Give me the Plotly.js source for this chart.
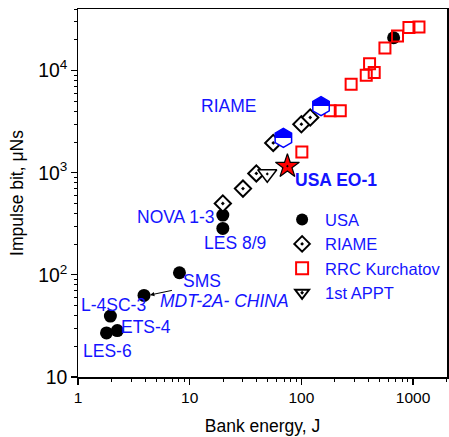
<!DOCTYPE html>
<html>
<head>
<meta charset="utf-8">
<script src="https://cdn.plot.ly/plotly-3.0.1.min.js"></script>
<style>html,body{margin:0;padding:0;background:#fff;}#chart{width:449px;height:437px;}</style>
</head>
<body>
<div id="chart"></div>
<script>
// Data (Bank energy in J, Impulse bit in µNs)
const usaX = [1.8, 2.25, 1.95, 3.9, 8.1, 19.8, 19.8, 670];
const usaY = [27, 28.5, 39.5, 63, 105, 385, 285, 21000];
const riameX = [19.8, 30, 39.5, 56, 100, 120];
const riameY = [500, 700, 985, 1960, 2990, 3480];
const rrcX = [101, 181, 223, 279, 381, 449, 408, 560, 726, 919, 1130];
const rrcY = [1600, 4040, 4040, 7360, 9020, 9570, 11700, 16700, 21900, 26400, 26800];
const apptX = [49.5];
const apptY = [975];
const hexX = [69, 150];
const hexY = [2200, 4490];
const eo1X = [75];
const eo1Y = [1160];

const labels = [
  {text: 'RIAME', x: 22.4, y: 4560},
  {text: 'NOVA 1-3', x: 7.6, y: 373},
  {text: 'LES 8/9', x: 25.6, y: 206},
  {text: 'SMS', x: 12.8, y: 87},
  {text: 'L-4SC-3', x: 2.09, y: 50.6},
  {text: 'ETS-4', x: 4.06, y: 31},
  {text: 'LES-6', x: 1.82, y: 18.1},
  {text: '<i>MDT-2A- CHINA</i>', x: 20.4, y: 55.4},
  {text: '<b>USA EO-1</b>', x: 204, y: 859}
];

const FONT = 'Arial, "Liberation Sans", sans-serif';
const BLUE = '#1414ff';

const traces = [
  {name: 'USA', x: usaX, y: usaY, type: 'scatter', mode: 'markers',
   marker: {symbol: 'circle', size: 13, color: '#000', line: {width: 0}}},
  {name: 'RIAME', x: riameX, y: riameY, type: 'scatter', mode: 'markers',
   marker: {symbol: 'diamond-dot', size: 12.5, color: '#fff', line: {width: 2, color: '#000'}}},
  {name: 'RRC Kurchatov', x: rrcX, y: rrcY, type: 'scatter', mode: 'markers',
   marker: {symbol: 'square-open', size: 11, color: '#ff0000', line: {width: 2, color: '#ff0000'}}},
  {name: '1st APPT', x: apptX, y: apptY, type: 'scatter', mode: 'markers',
   marker: {symbol: 'triangle-down-dot', size: 16.5, color: '#fff', line: {width: 1.5, color: '#000'}}},
  {name: 'hex', x: hexX, y: hexY, type: 'scatter', mode: 'markers', showlegend: false,
   marker: {symbol: 'hexagon', size: 19, color: '#0000ff', gradient: {type: 'vertical', color: '#ffffff'},
            line: {width: 1.5, color: '#0000ff'}}},
  {name: 'EO-1', x: eo1X, y: eo1Y, type: 'scatter', mode: 'markers', showlegend: false,
   marker: {symbol: 'star-dot', size: 18, color: '#ff0000', line: {width: 1.2, color: '#000'}}}
];

const annotations = labels.map(l => ({
  text: l.text, x: Math.log10(l.x), y: Math.log10(l.y), xref: 'x', yref: 'y',
  showarrow: false, xanchor: 'center', yanchor: 'middle',
  font: {family: FONT, size: 17.5, color: BLUE}
}));
// arrow from MDT label to its point
annotations.push({
  text: '', xref: 'x', yref: 'y', axref: 'x', ayref: 'y',
  x: Math.log10(4.4), y: Math.log10(63.5), ax: Math.log10(7.15), ay: Math.log10(71),
  showarrow: true, arrowhead: 2, arrowsize: 0.9, arrowwidth: 1, arrowcolor: '#000'
});

const layout = {
  width: 449, height: 437,
  margin: {l: 78, r: 2.3, t: 9, b: 60},
  paper_bgcolor: '#fff', plot_bgcolor: '#fff',
  font: {family: FONT, color: '#000'},
  showlegend: true,
  legend: {x: 0.545, y: 0.475, xanchor: 'left', yanchor: 'top', bgcolor: 'rgba(0,0,0,0)',
           font: {family: FONT, size: 16.5, color: BLUE}, itemsizing: 'constant', itemwidth: 36,
           borderwidth: 0},
  xaxis: {type: 'log', range: [0, 3.304], dtick: 1, exponentformat: 'none',
          showgrid: false, zeroline: false, showline: true, linecolor: '#000', linewidth: 1.5, mirror: true,
          ticks: 'outside', ticklen: 6, tickwidth: 1.2, tickcolor: '#000',
          minor: {ticks: 'outside', ticklen: 3, tickwidth: 1, tickcolor: '#000', showgrid: false},
          tickfont: {family: FONT, size: 15.5, color: '#000'},
          title: {text: 'Bank energy, J', font: {family: FONT, size: 17.5, color: '#000'}, standoff: 14}},
  yaxis: {type: 'log', range: [1, 4.604], dtick: 1, exponentformat: 'power', showexponent: 'all',
          showgrid: false, zeroline: false, showline: true, linecolor: '#000', linewidth: 1.5, mirror: true,
          ticks: 'outside', ticklen: 6, tickwidth: 1.2, tickcolor: '#000',
          minor: {ticks: 'outside', ticklen: 3, tickwidth: 1, tickcolor: '#000', showgrid: false},
          tickfont: {family: FONT, size: 15.5, color: '#000'},
          title: {text: 'Impulse bit, μNs', font: {family: FONT, size: 17.5, color: '#000'}, standoff: 10}},
  annotations: annotations
};

Plotly.newPlot('chart', traces, layout, {displayModeBar: false, staticPlot: true}).then(gd => {
  gd.querySelectorAll('linearGradient').forEach(g => {
    const stops = g.querySelectorAll('stop');
    if (stops.length === 2) {
      const a = stops[0].cloneNode(); a.setAttribute('offset', '50%');
      const b = stops[1].cloneNode(); b.setAttribute('offset', '50%');
      g.insertBefore(a, stops[1]);
      g.insertBefore(b, stops[1]);
    }
  });
});
</script>
</body>
</html>
